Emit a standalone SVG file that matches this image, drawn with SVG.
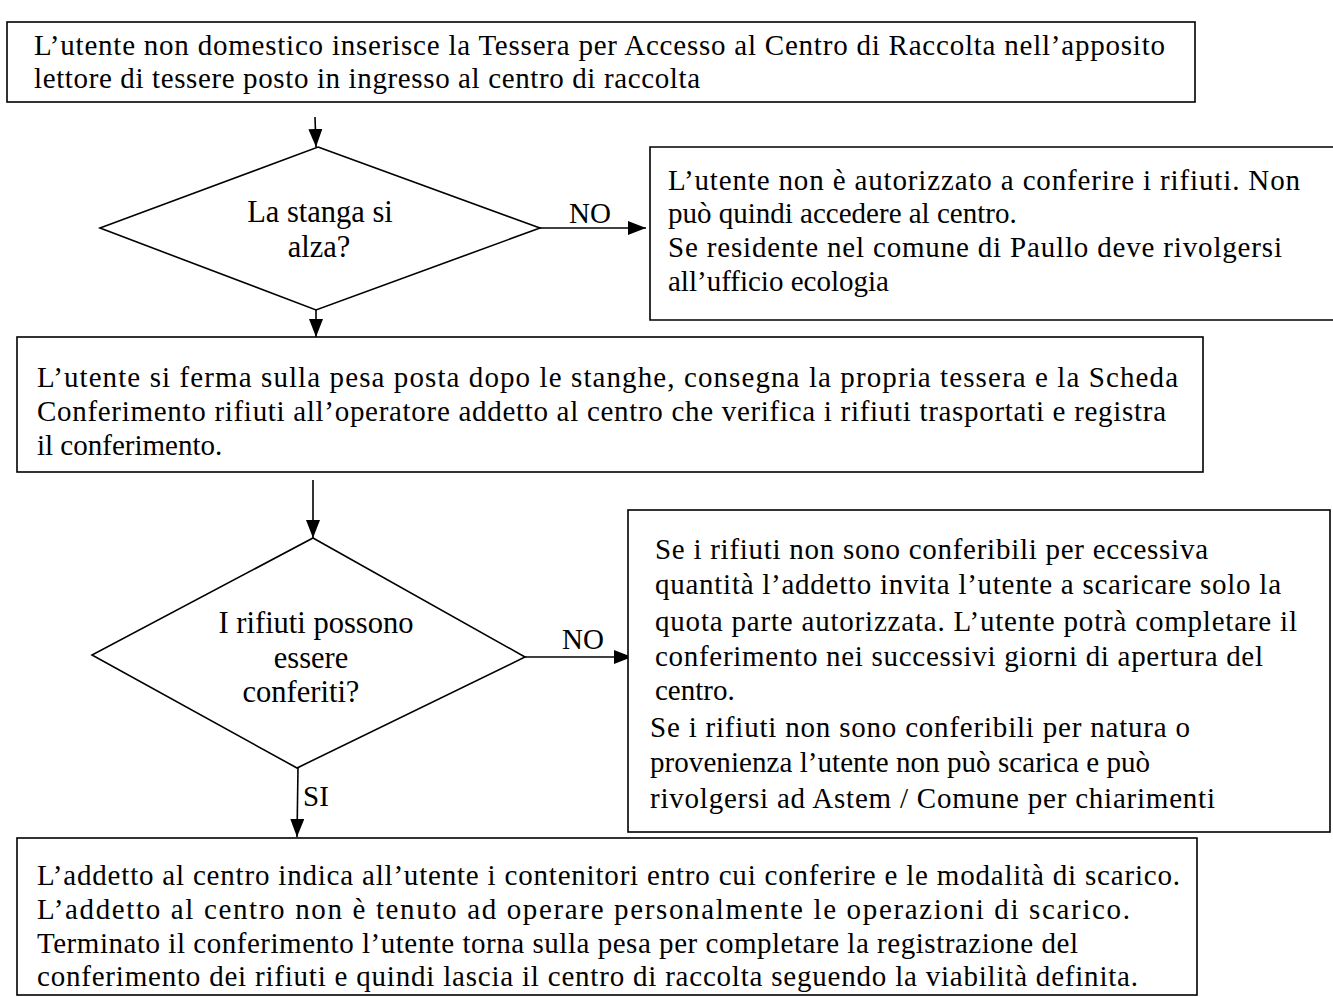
<svg xmlns="http://www.w3.org/2000/svg" width="1333" height="997" viewBox="0 0 1333 997">
<style>
.b{fill:#fff;stroke:#000;stroke-width:1.6}
.t{font-family:"Liberation Serif","Times New Roman",serif;font-size:29px;fill:#000}
.d{font-size:30.5px}
.c{text-anchor:middle}
.l{stroke:#000;stroke-width:1.6;fill:none}
</style>
<defs>
<marker id="ahb" viewBox="0 0 18 14" refX="18" refY="7" markerWidth="18" markerHeight="14" markerUnits="userSpaceOnUse" orient="auto">
<path d="M0,0 L18,7 L0,14 Z" fill="#000"/>
</marker>
</defs>
<rect width="1333" height="997" fill="#fff"/>

<g id="connectors">
<line class="l" x1="315" y1="117" x2="316" y2="147" marker-end="url(#ahb)"/>
<line class="l" x1="540" y1="228" x2="646" y2="228" marker-end="url(#ahb)"/>
<line class="l" x1="316" y1="310" x2="316" y2="337" marker-end="url(#ahb)"/>
<line class="l" x1="313" y1="480" x2="313" y2="538" marker-end="url(#ahb)"/>
<line class="l" x1="525" y1="657" x2="632" y2="657" marker-end="url(#ahb)"/>
<line class="l" x1="298" y1="768" x2="297" y2="837" marker-end="url(#ahb)"/>
<text class="t c" x="590" y="223">NO</text>
<text class="t c" x="583" y="649">NO</text>
<text class="t" x="303" y="806">SI</text>
</g>

<g id="start">
<rect class="b" x="7" y="22" width="1188" height="80"/>
<text class="t" x="34" y="55" textLength="1131">L’utente non domestico inserisce la Tessera per Accesso al Centro di Raccolta nell’apposito</text>
<text class="t" x="34" y="88" textLength="666">lettore di tessere posto in ingresso al centro di raccolta</text>
</g>

<g id="decision1">
<polygon class="b" points="318,147 540,228 316,310 100,228"/>
<text class="t d c" x="320" y="222">La stanga si</text>
<text class="t d c" x="319" y="257">alza?</text>
</g>

<g id="reject1">
<path class="b" d="M1340,147 L650,147 L650,320 L1340,320"/>
<text class="t" x="668" y="190" textLength="632">L’utente non è autorizzato a conferire i rifiuti. Non</text>
<text class="t" x="668" y="223">può quindi accedere al centro.</text>
<text class="t" x="668" y="257" textLength="614">Se residente nel comune di Paullo deve rivolgersi</text>
<text class="t" x="668" y="291">all’ufficio ecologia</text>
</g>

<g id="weigh">
<rect class="b" x="17" y="337" width="1186" height="135"/>
<text class="t" x="37" y="387" textLength="1141">L’utente si ferma sulla pesa posta dopo le stanghe, consegna la propria tessera e la Scheda</text>
<text class="t" x="37" y="421" textLength="1129">Conferimento rifiuti all’operatore addetto al centro che verifica i rifiuti trasportati e registra</text>
<text class="t" x="37" y="455">il conferimento.</text>
</g>

<g id="decision2">
<polygon class="b" points="313,538 525,657 297,768 92,655"/>
<text class="t d c" x="316" y="633">I rifiuti possono</text>
<text class="t d c" x="311" y="668">essere</text>
<text class="t d c" x="301" y="702">conferiti?</text>
</g>

<g id="reject2">
<rect class="b" x="628" y="510" width="702" height="322"/>
<text class="t" x="655" y="559" textLength="553">Se i rifiuti non sono conferibili per eccessiva</text>
<text class="t" x="655" y="594" textLength="626">quantità l’addetto invita l’utente a scaricare solo la</text>
<text class="t" x="655" y="631" textLength="642">quota parte autorizzata. L’utente potrà completare il</text>
<text class="t" x="655" y="666" textLength="608">conferimento nei successivi giorni di apertura del</text>
<text class="t" x="655" y="700">centro.</text>
<text class="t" x="650" y="737" textLength="540">Se i rifiuti non sono conferibili per natura o</text>
<text class="t" x="650" y="772" textLength="500">provenienza l’utente non può scarica e può</text>
<text class="t" x="650" y="808" textLength="565">rivolgersi ad Astem / Comune per chiarimenti</text>
</g>

<g id="unload">
<rect class="b" x="17" y="838" width="1180" height="157"/>
<text class="t" x="37" y="885" textLength="1143">L’addetto al centro indica all’utente i contenitori entro cui conferire e le modalità di scarico.</text>
<text class="t" x="37" y="919" textLength="1093">L’addetto al centro non è tenuto ad operare personalmente le operazioni di scarico.</text>
<text class="t" x="37" y="953" textLength="1041">Terminato il conferimento l’utente torna sulla pesa per completare la registrazione del</text>
<text class="t" x="37" y="986" textLength="1101">conferimento dei rifiuti e quindi lascia il centro di raccolta seguendo la viabilità definita.</text>
</g>
</svg>
